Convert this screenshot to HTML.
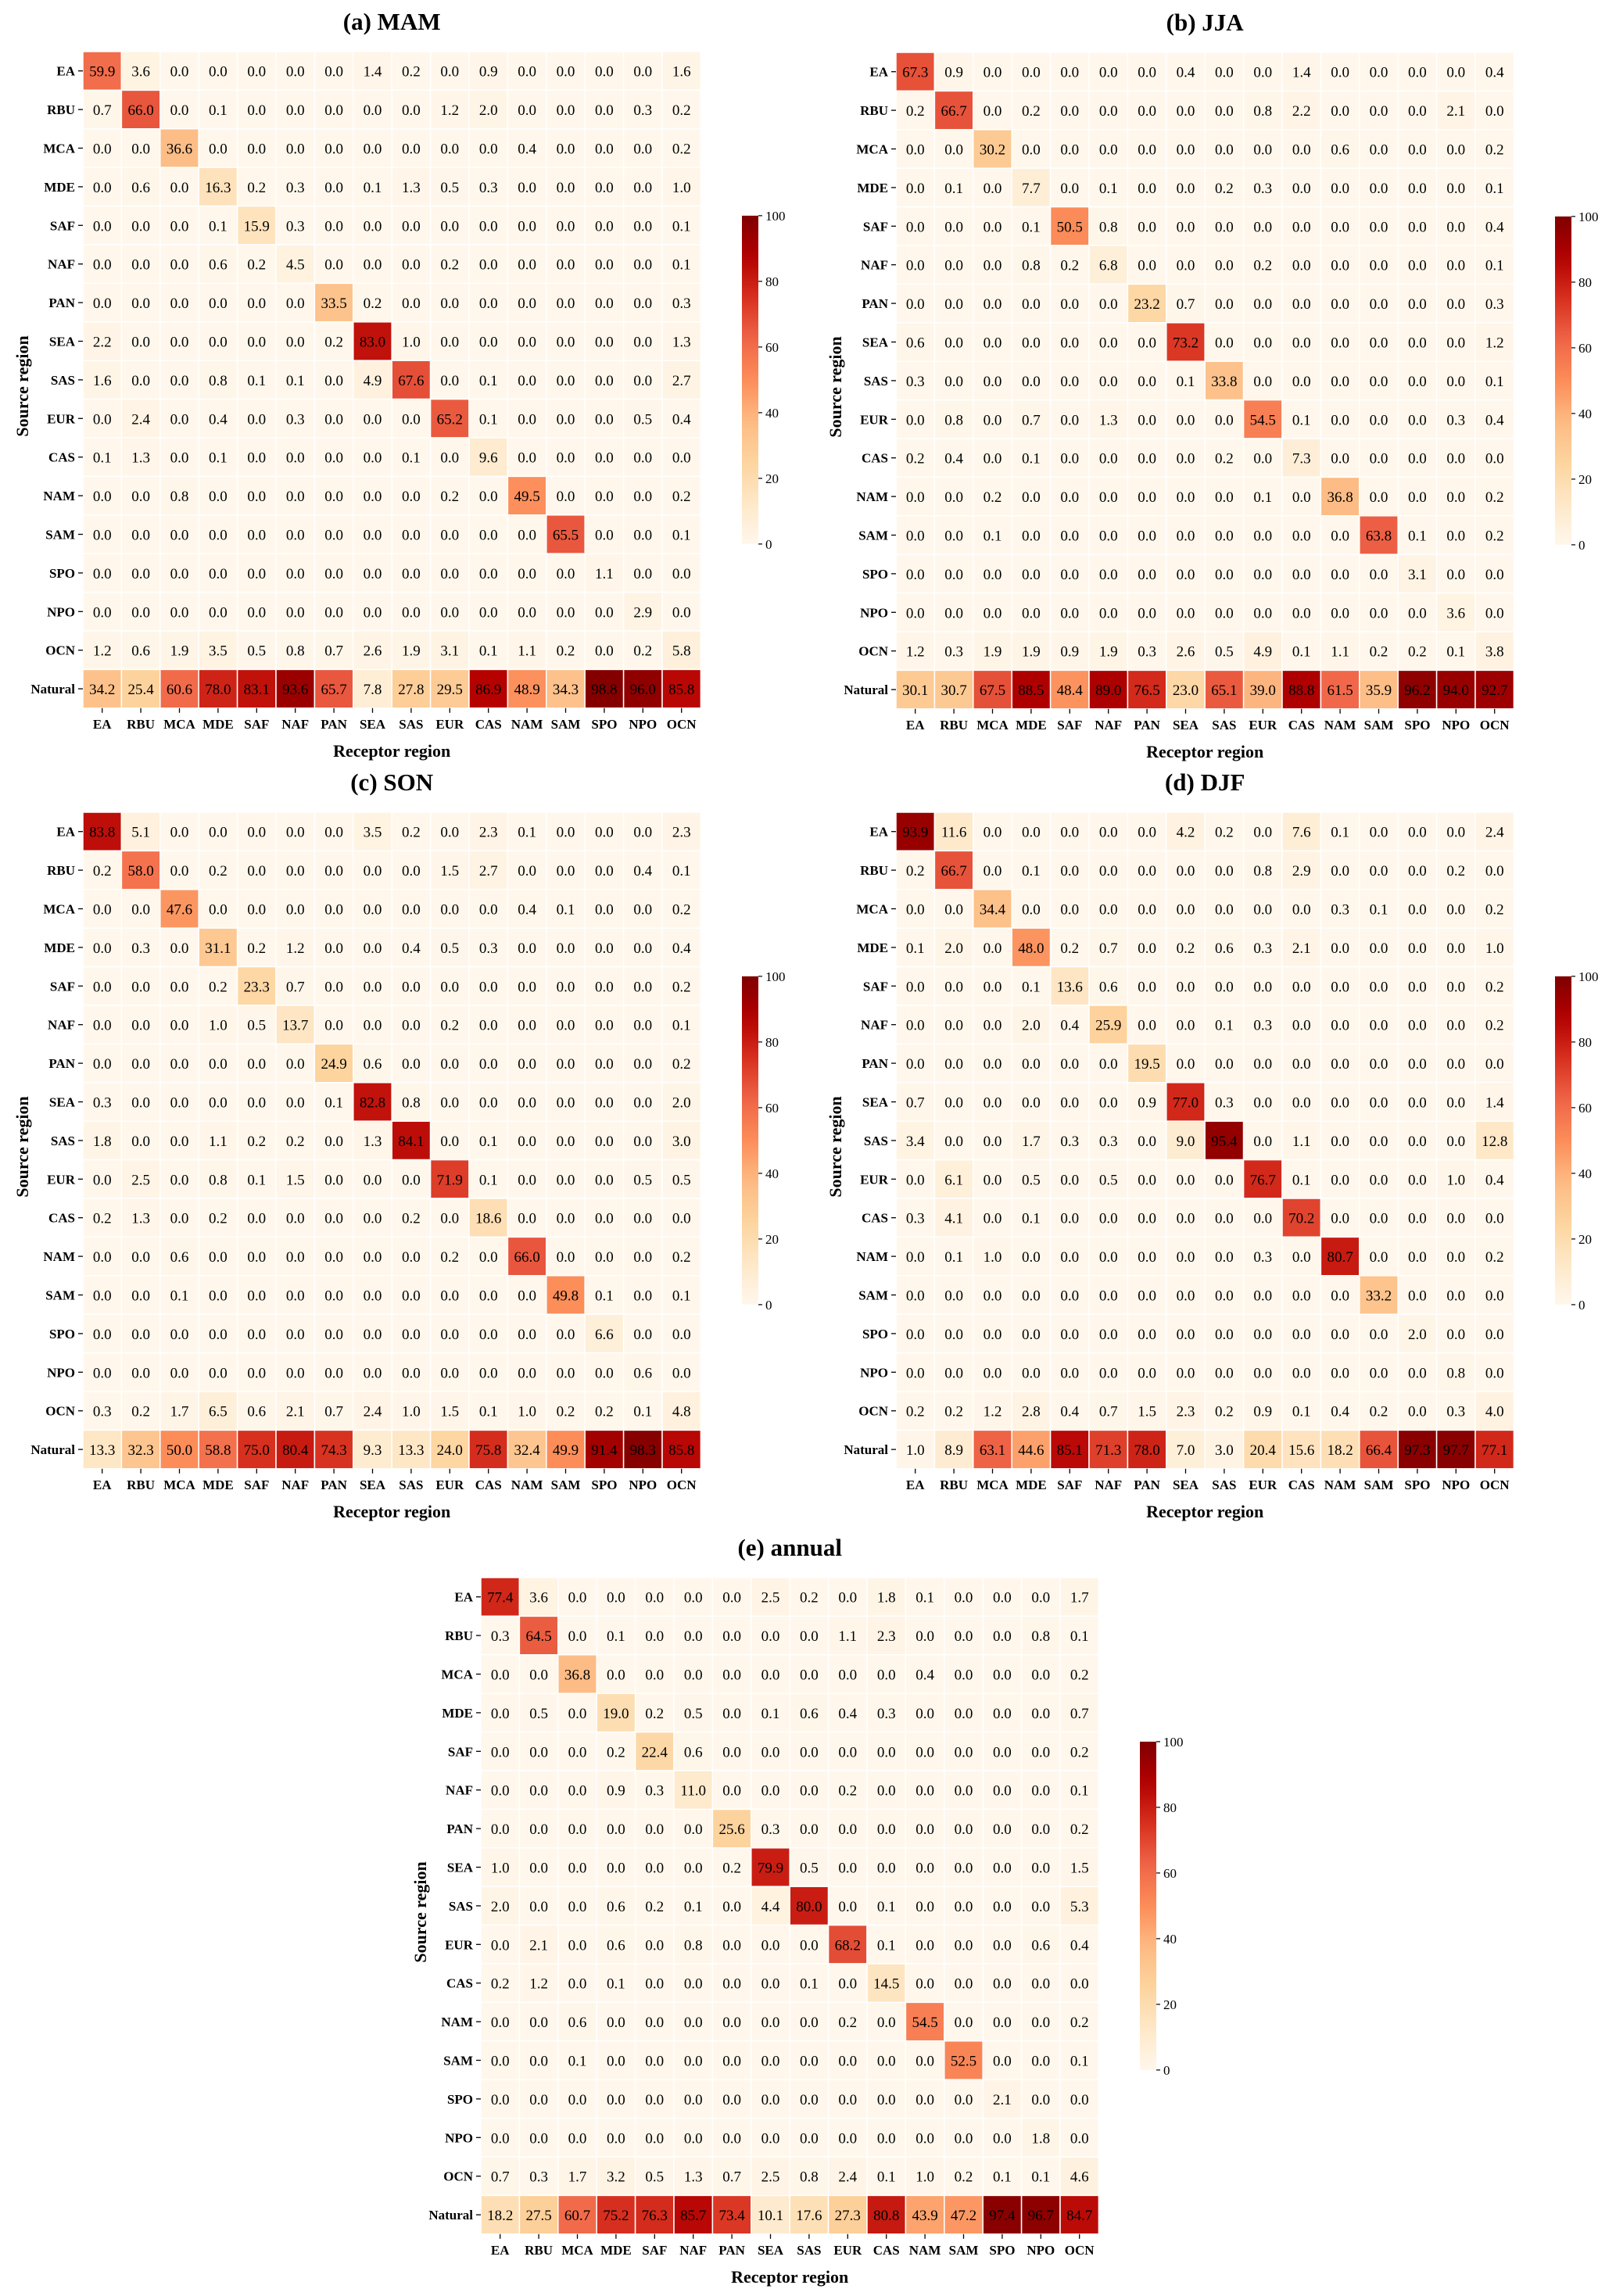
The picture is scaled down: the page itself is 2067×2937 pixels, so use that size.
<!DOCTYPE html>
<html><head><meta charset="utf-8">
<style>
html,body{margin:0;padding:0;background:#fff;}
svg{display:block;font-family:"Liberation Serif","DejaVu Serif",serif;}
</style></head>
<body>
<svg id="fig" width="2067" height="2937" viewBox="0 0 2067 2937" xmlns="http://www.w3.org/2000/svg"></svg>
<script>
const regions = ["EA","RBU","MCA","MDE","SAF","NAF","PAN","SEA","SAS","EUR","CAS","NAM","SAM","SPO","NPO","OCN"];
const sources = ["EA","RBU","MCA","MDE","SAF","NAF","PAN","SEA","SAS","EUR","CAS","NAM","SAM","SPO","NPO","OCN","Natural"];
const cbTicks = [0,20,40,60,80,100];

const dataMAM = [
[59.9,3.6,0,0,0,0,0,1.4,0.2,0,0.9,0,0,0,0,1.6],
[0.7,66.0,0,0.1,0,0,0,0,0,1.2,2.0,0,0,0,0.3,0.2],
[0,0,36.6,0,0,0,0,0,0,0,0,0.4,0,0,0,0.2],
[0,0.6,0,16.3,0.2,0.3,0,0.1,1.3,0.5,0.3,0,0,0,0,1.0],
[0,0,0,0.1,15.9,0.3,0,0,0,0,0,0,0,0,0,0.1],
[0,0,0,0.6,0.2,4.5,0,0,0,0.2,0,0,0,0,0,0.1],
[0,0,0,0,0,0,33.5,0.2,0,0,0,0,0,0,0,0.3],
[2.2,0,0,0,0,0,0.2,83.0,1.0,0,0,0,0,0,0,1.3],
[1.6,0,0,0.8,0.1,0.1,0,4.9,67.6,0,0.1,0,0,0,0,2.7],
[0,2.4,0,0.4,0,0.3,0,0,0,65.2,0.1,0,0,0,0.5,0.4],
[0.1,1.3,0,0.1,0,0,0,0,0.1,0,9.6,0,0,0,0,0],
[0,0,0.8,0,0,0,0,0,0,0.2,0,49.5,0,0,0,0.2],
[0,0,0,0,0,0,0,0,0,0,0,0,65.5,0,0,0.1],
[0,0,0,0,0,0,0,0,0,0,0,0,0,1.1,0,0],
[0,0,0,0,0,0,0,0,0,0,0,0,0,0,2.9,0],
[1.2,0.6,1.9,3.5,0.5,0.8,0.7,2.6,1.9,3.1,0.1,1.1,0.2,0,0.2,5.8],
[34.2,25.4,60.6,78.0,83.1,93.6,65.7,7.8,27.8,29.5,86.9,48.9,34.3,98.8,96.0,85.8]];

const dataJJA = [
[67.3,0.9,0,0,0,0,0,0.4,0,0,1.4,0,0,0,0,0.4],
[0.2,66.7,0,0.2,0,0,0,0,0,0.8,2.2,0,0,0,2.1,0],
[0,0,30.2,0,0,0,0,0,0,0,0,0.6,0,0,0,0.2],
[0,0.1,0,7.7,0,0.1,0,0,0.2,0.3,0,0,0,0,0,0.1],
[0,0,0,0.1,50.5,0.8,0,0,0,0,0,0,0,0,0,0.4],
[0,0,0,0.8,0.2,6.8,0,0,0,0.2,0,0,0,0,0,0.1],
[0,0,0,0,0,0,23.2,0.7,0,0,0,0,0,0,0,0.3],
[0.6,0,0,0,0,0,0,73.2,0,0,0,0,0,0,0,1.2],
[0.3,0,0,0,0,0,0,0.1,33.8,0,0,0,0,0,0,0.1],
[0,0.8,0,0.7,0,1.3,0,0,0,54.5,0.1,0,0,0,0.3,0.4],
[0.2,0.4,0,0.1,0,0,0,0,0.2,0,7.3,0,0,0,0,0],
[0,0,0.2,0,0,0,0,0,0,0.1,0,36.8,0,0,0,0.2],
[0,0,0.1,0,0,0,0,0,0,0,0,0,63.8,0.1,0,0.2],
[0,0,0,0,0,0,0,0,0,0,0,0,0,3.1,0,0],
[0,0,0,0,0,0,0,0,0,0,0,0,0,0,3.6,0],
[1.2,0.3,1.9,1.9,0.9,1.9,0.3,2.6,0.5,4.9,0.1,1.1,0.2,0.2,0.1,3.8],
[30.1,30.7,67.5,88.5,48.4,89.0,76.5,23.0,65.1,39.0,88.8,61.5,35.9,96.2,94.0,92.7]];

const dataSON = [
[83.8,5.1,0,0,0,0,0,3.5,0.2,0,2.3,0.1,0,0,0,2.3],
[0.2,58.0,0,0.2,0,0,0,0,0,1.5,2.7,0,0,0,0.4,0.1],
[0,0,47.6,0,0,0,0,0,0,0,0,0.4,0.1,0,0,0.2],
[0,0.3,0,31.1,0.2,1.2,0,0,0.4,0.5,0.3,0,0,0,0,0.4],
[0,0,0,0.2,23.3,0.7,0,0,0,0,0,0,0,0,0,0.2],
[0,0,0,1.0,0.5,13.7,0,0,0,0.2,0,0,0,0,0,0.1],
[0,0,0,0,0,0,24.9,0.6,0,0,0,0,0,0,0,0.2],
[0.3,0,0,0,0,0,0.1,82.8,0.8,0,0,0,0,0,0,2.0],
[1.8,0,0,1.1,0.2,0.2,0,1.3,84.1,0,0.1,0,0,0,0,3.0],
[0,2.5,0,0.8,0.1,1.5,0,0,0,71.9,0.1,0,0,0,0.5,0.5],
[0.2,1.3,0,0.2,0,0,0,0,0.2,0,18.6,0,0,0,0,0],
[0,0,0.6,0,0,0,0,0,0,0.2,0,66.0,0,0,0,0.2],
[0,0,0.1,0,0,0,0,0,0,0,0,0,49.8,0.1,0,0.1],
[0,0,0,0,0,0,0,0,0,0,0,0,0,6.6,0,0],
[0,0,0,0,0,0,0,0,0,0,0,0,0,0,0.6,0],
[0.3,0.2,1.7,6.5,0.6,2.1,0.7,2.4,1.0,1.5,0.1,1.0,0.2,0.2,0.1,4.8],
[13.3,32.3,50.0,58.8,75.0,80.4,74.3,9.3,13.3,24.0,75.8,32.4,49.9,91.4,98.3,85.8]];

const dataDJF = [
[93.9,11.6,0,0,0,0,0,4.2,0.2,0,7.6,0.1,0,0,0,2.4],
[0.2,66.7,0,0.1,0,0,0,0,0,0.8,2.9,0,0,0,0.2,0],
[0,0,34.4,0,0,0,0,0,0,0,0,0.3,0.1,0,0,0.2],
[0.1,2.0,0,48.0,0.2,0.7,0,0.2,0.6,0.3,2.1,0,0,0,0,1.0],
[0,0,0,0.1,13.6,0.6,0,0,0,0,0,0,0,0,0,0.2],
[0,0,0,2.0,0.4,25.9,0,0,0.1,0.3,0,0,0,0,0,0.2],
[0,0,0,0,0,0,19.5,0,0,0,0,0,0,0,0,0],
[0.7,0,0,0,0,0,0.9,77.0,0.3,0,0,0,0,0,0,1.4],
[3.4,0,0,1.7,0.3,0.3,0,9.0,95.4,0,1.1,0,0,0,0,12.8],
[0,6.1,0,0.5,0,0.5,0,0,0,76.7,0.1,0,0,0,1.0,0.4],
[0.3,4.1,0,0.1,0,0,0,0,0,0,70.2,0,0,0,0,0],
[0,0.1,1.0,0,0,0,0,0,0,0.3,0,80.7,0,0,0,0.2],
[0,0,0,0,0,0,0,0,0,0,0,0,33.2,0,0,0],
[0,0,0,0,0,0,0,0,0,0,0,0,0,2.0,0,0],
[0,0,0,0,0,0,0,0,0,0,0,0,0,0,0.8,0],
[0.2,0.2,1.2,2.8,0.4,0.7,1.5,2.3,0.2,0.9,0.1,0.4,0.2,0,0.3,4.0],
[1.0,8.9,63.1,44.6,85.1,71.3,78.0,7.0,3.0,20.4,15.6,18.2,66.4,97.3,97.7,77.1]];

const dataAnnual = [
[77.4,3.6,0,0,0,0,0,2.5,0.2,0,1.8,0.1,0,0,0,1.7],
[0.3,64.5,0,0.1,0,0,0,0,0,1.1,2.3,0,0,0,0.8,0.1],
[0,0,36.8,0,0,0,0,0,0,0,0,0.4,0,0,0,0.2],
[0,0.5,0,19.0,0.2,0.5,0,0.1,0.6,0.4,0.3,0,0,0,0,0.7],
[0,0,0,0.2,22.4,0.6,0,0,0,0,0,0,0,0,0,0.2],
[0,0,0,0.9,0.3,11.0,0,0,0,0.2,0,0,0,0,0,0.1],
[0,0,0,0,0,0,25.6,0.3,0,0,0,0,0,0,0,0.2],
[1.0,0,0,0,0,0,0.2,79.9,0.5,0,0,0,0,0,0,1.5],
[2.0,0,0,0.6,0.2,0.1,0,4.4,80.0,0,0.1,0,0,0,0,5.3],
[0,2.1,0,0.6,0,0.8,0,0,0,68.2,0.1,0,0,0,0.6,0.4],
[0.2,1.2,0,0.1,0,0,0,0,0.1,0,14.5,0,0,0,0,0],
[0,0,0.6,0,0,0,0,0,0,0.2,0,54.5,0,0,0,0.2],
[0,0,0.1,0,0,0,0,0,0,0,0,0,52.5,0,0,0.1],
[0,0,0,0,0,0,0,0,0,0,0,0,0,2.1,0,0],
[0,0,0,0,0,0,0,0,0,0,0,0,0,0,1.8,0],
[0.7,0.3,1.7,3.2,0.5,1.3,0.7,2.5,0.8,2.4,0.1,1.0,0.2,0.1,0.1,4.6],
[18.2,27.5,60.7,75.2,76.3,85.7,73.4,10.1,17.6,27.3,80.8,43.9,47.2,97.4,96.7,84.7]];

const NS = "http://www.w3.org/2000/svg";
const svg = document.getElementById('fig');
const stops = ["#fff7ec","#fee8c8","#fdd49e","#fdbb84","#fc8d59","#ef6548","#d7301f","#b30000","#7f0000"];
function hex(h){return [1,3,5].map(i=>parseInt(h.substr(i,2),16));}
function color(v){
  let t=Math.max(0,Math.min(1,v/100))*(stops.length-1);
  let i=Math.min(stops.length-2,Math.floor(t)), f=t-i;
  let a=hex(stops[i]), b=hex(stops[i+1]);
  return 'rgb('+a.map((x,k)=>Math.round(x+(b[k]-x)*f)).join(',')+')';
}
function el(tag, attrs, parent, txt){
  const e=document.createElementNS(NS,tag);
  for(const k in attrs) e.setAttribute(k,attrs[k]);
  if(txt!==undefined) e.textContent=txt;
  (parent||svg).appendChild(e);
  return e;
}
const CELL=49.4;
function panel(key, title, data, L, T){
  const g=el('g',{});
  
  
  const xs=c=>L+c*CELL, ys=r=>T+r*CELL;
  const W=CELL*regions.length, H=CELL*sources.length;
  const t=el('text',{x:L+W/2,y:T-28,'text-anchor':'middle','font-size':31,'font-weight':'bold'},g,title);
  
  
  data.forEach((row,r)=>row.forEach((v,c)=>{
    const rc=el('rect',{x:xs(c),y:ys(r),width:CELL,height:CELL,fill:color(v),stroke:'#fff','stroke-width':1.5},g);
    
    
    const tx=el('text',{x:xs(c)+CELL/2,y:ys(r)+CELL/2+7,'text-anchor':'middle','font-size':19,fill:'#000'},g,v.toFixed(1));
    
    
  }));
  sources.forEach((s,r)=>{
    el('line',{x1:L-6,x2:L,y1:ys(r)+CELL/2,y2:ys(r)+CELL/2,stroke:'#000','stroke-width':1.3},g);
    const tl=el('text',{x:L-10,y:ys(r)+CELL/2+6,'text-anchor':'end','font-size':17,'font-weight':'bold'},g,s);
    
    
  });
  regions.forEach((s,c)=>{
    el('line',{x1:xs(c)+CELL/2,x2:xs(c)+CELL/2,y1:T+H,y2:T+H+6,stroke:'#000','stroke-width':1.3},g);
    const tl=el('text',{x:xs(c)+CELL/2,y:T+H+26,'text-anchor':'middle','font-size':17,'font-weight':'bold'},g,s);
    
    
  });
  const xt=el('text',{x:L+W/2,y:T+H+62,'text-anchor':'middle','font-size':22,'font-weight':'bold'},g,'Receptor region');
  
  
  const cy=T+H/2;
  const yt=el('text',{x:L-78,y:cy,'text-anchor':'middle','font-size':22,'font-weight':'bold',transform:'rotate(-90 '+(L-78+8)+' '+cy+')'},g,'Source region');
  
  
  // colorbar
  const cbx=L+843, cbh=420, cby=cy-cbh/2, cbw=21;
  const gid='grad-'+key;
  const defs=el('defs',{},g);
  const lg=el('linearGradient',{id:gid,x1:0,y1:1,x2:0,y2:0},defs);
  for(let i=0;i<=20;i++){el('stop',{offset:(i/20),'stop-color':color(i*5)},lg);}
  const cb=el('rect',{x:cbx,y:cby,width:cbw,height:cbh,fill:'url(#'+gid+')'},g);
  
  
  const cyScale=v=>cby+cbh-(v/100)*cbh;
  cbTicks.forEach(v=>{
    el('line',{x1:cbx+cbw,x2:cbx+cbw+5,y1:cyScale(v),y2:cyScale(v),stroke:'#000','stroke-width':1.2},g);
    const ct=el('text',{x:cbx+cbw+9,y:cyScale(v)+6,'font-size':17},g,String(v));
    
    
  });
}
panel('mam','(a) MAM',dataMAM,106,66);
panel('jja','(b) JJA',dataJJA,1146,67);
panel('son','(c) SON',dataSON,106,1039);
panel('djf','(d) DJF',dataDJF,1146,1039);
panel('annual','(e) annual',dataAnnual,615,2018);
</script>
</body></html>
